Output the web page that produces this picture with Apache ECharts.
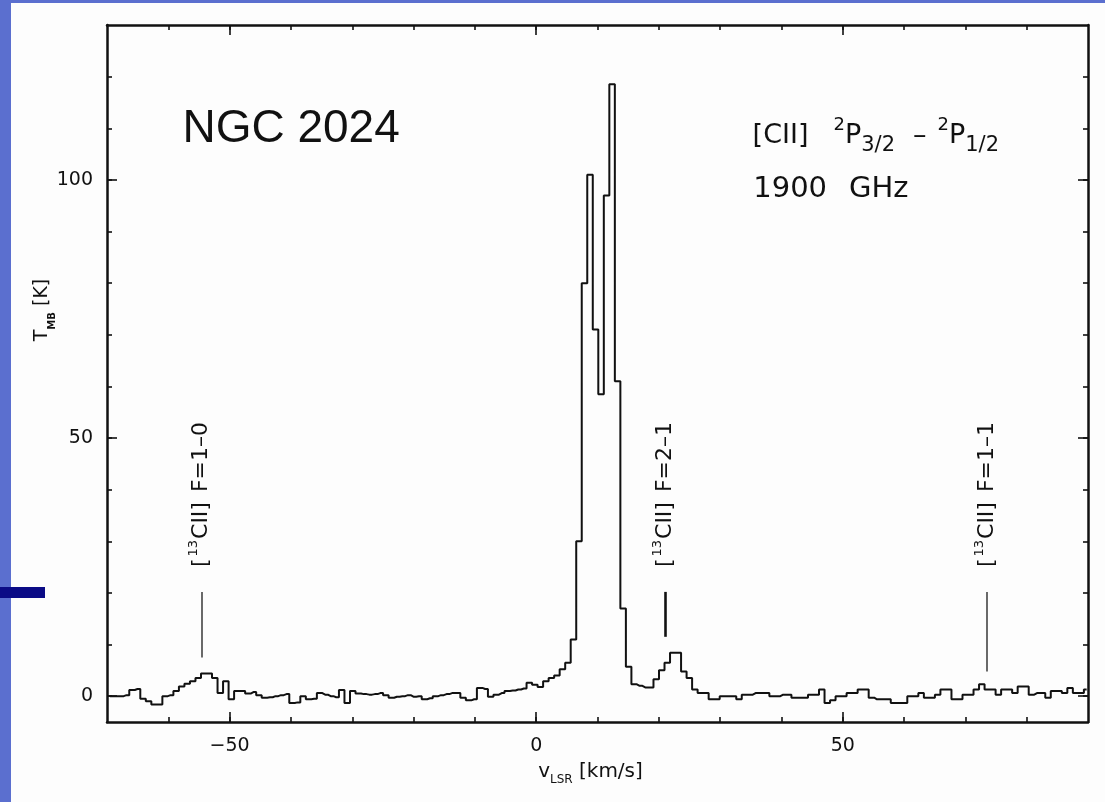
<!DOCTYPE html>
<html>
<head>
<meta charset="utf-8">
<title>NGC 2024 [CII]</title>
<script src="https://cdn.jsdelivr.net/npm/echarts@6/dist/echarts.min.js"></script>
<style>
  html, body { margin: 0; padding: 0; background: #5b6fcf; }
  #main { width: 1105px; height: 802px; }
</style>
</head>
<body>
<div id="main"></div>
<script>
// spectral axis: first channel centre and channel width (km/s)
var CH0 = -69.52;
var DCH = 0.9;

// T_MB [K] per channel
var temperature = [
  0, 0, 0, 0.2, 1.2, 1.4, -0.5, -1.0, -1.6, -1.6,
  0, 0.2, 1.0, 1.9, 2.4, 2.9, 3.5, 4.4, 4.4, 3.5,
  0.6, 2.9, -0.6, 1.0, 1.0, 0.5, 0.8, 0.2, -0.3, -0.2,
  0, 0.2, 0.4, -1.3, -1.2, 0, -0.6, -0.5, 0.6, 0.3,
  0, -0.2, 1.2, -1.3, 1.0, 0.5, 0.4, 0.3, 0.4, 0.6,
  0.2, -0.3, -0.1, 0, 0.2, -0.1, 0, -0.6, -0.4, 0,
  0.2, 0.4, 0.6, 0.6, -0.3, -0.8, -0.6, 1.6, 1.4, -0.1,
  0.3, 0.6, 1.0, 1.1, 1.3, 1.5, 2.6, 2.2, 1.8, 2.9,
  3.5, 4.0, 5.2, 6.5, 11, 30, 80, 101, 71, 58.5,
  97, 118.5, 61, 17, 5.7, 2.3, 2.0, 1.7, 1.7, 3.3,
  5.0, 6.5, 8.4, 8.4, 4.8, 3.5, 1.3, 0.6, 0.6, -0.6,
  -0.6, 0, 0, 0, -0.6, 0.3, 0.3, 0.6, 0.6, 0.6,
  0, 0, 0.3, 0.3, -0.3, -0.3, -0.3, 0.3, 0.3, 1.3,
  -1.3, -0.8, 0, 0, 0.6, 0.6, 1.3, 1.3, -0.3, -0.6,
  -0.6, -0.6, -1.3, -1.3, -1.3, 0, 0, 0.6, -0.3, -0.3,
  0.3, 1.3, 1.3, -0.6, -0.6, 0.3, 0.3, 1.3, 2.3, 1.3,
  1.3, 0.3, 1.3, 1.3, 0.6, 1.9, 1.9, 0.3, 0.6, 0.6,
  -0.3, 1.0, 1.0, 0.6, 1.6, 0.6, 0.6, 1.3
];

// 13CII hyperfine components
var markerVel = [-54.6, 21.1, 73.5];
var markerTop = [20.2, 20.2, 20.2];
var markerBottom = [7.5, 11.5, 4.8];
var markerName = ['F=1\u20130', 'F=2\u20131', 'F=1\u20131'];

// ticks
var xMajorTicks = [-50, 0, 50];
var xMinorTicks = [-60, -50, -40, -30, -20, -10, 0, 10, 20, 30, 40, 50, 60, 70, 80];
var yMajorTicks = [0, 50, 100];
var yMinorTicks = [0, 10, 20, 30, 40, 50, 60, 70, 80, 90, 100, 110, 120];

var FONT = 'DejaVu Sans';
var INK = '#111111';

var spectrum = temperature.map(function (t, i) {
  return [+(CH0 + i * DCH).toFixed(2), t];
});

function minus(v) {
  return v < 0 ? '\u2212' + Math.abs(v) : String(v);
}

function makeX(pos, ticks, len, withLine, withLabel) {
  return {
    type: 'value', position: pos, min: -70, max: 90,
    axisLine: { show: withLine, onZero: false, lineStyle: { color: INK, width: 2.5 } },
    axisTick: { show: true, inside: true, length: len, customValues: ticks,
      lineStyle: { color: INK, width: 1.6 } },
    axisLabel: { show: withLabel, customValues: xMajorTicks, formatter: minus,
      fontFamily: FONT, fontSize: 19, color: INK, margin: 15 },
    splitLine: { show: false }
  };
}
function makeY(pos, ticks, len, withLine, withLabel) {
  return {
    type: 'value', position: pos, min: -5, max: 130,
    axisLine: { show: withLine, onZero: false, lineStyle: { color: INK, width: 2.5 } },
    axisTick: { show: true, inside: true, length: len, customValues: ticks,
      lineStyle: { color: INK, width: 1.6 } },
    axisLabel: { show: withLabel, customValues: yMajorTicks,
      fontFamily: FONT, fontSize: 19, color: INK, margin: 14 },
    splitLine: { show: false }
  };
}

var xBottom = makeX('bottom', xMinorTicks, 5, true, true);
xBottom.name = '{t|v}{s|LSR}{t| [km/s]}';
xBottom.nameLocation = 'middle';
xBottom.nameGap = 40;
xBottom.nameMoveOverlap = false;
xBottom.nameTextStyle = {
  color: INK,
  padding: [0, 14, 0, 0],
  rich: {
    t: { fontFamily: FONT, fontSize: 20, color: INK, lineHeight: 24, verticalAlign: 'top' },
    s: { fontFamily: FONT, fontSize: 12, color: INK, lineHeight: 16, verticalAlign: 'bottom' }
  }
};

var yLeft = makeY('left', yMinorTicks, 5, true, true);
yLeft.name = '{t|T}{s|MB}{t| [K]}';
yLeft.nameLocation = 'middle';
yLeft.nameRotate = 90;
yLeft.nameGap = 50;
yLeft.nameMoveOverlap = false;
yLeft.nameTextStyle = {
  color: INK,
  padding: [0, 0, 0, 127],
  rich: {
    t: { fontFamily: FONT, fontSize: 19, color: INK, lineHeight: 24, verticalAlign: 'top' },
    s: { fontFamily: FONT, fontSize: 10, fontWeight: 'bold', color: INK, lineHeight: 14, verticalAlign: 'bottom' }
  }
};

var noteRich = {
  mp: { fontFamily: FONT, fontSize: 27, color: INK, lineHeight: 40, verticalAlign: 'middle', padding: [0, 22, 0, 0] },
  m: { fontFamily: FONT, fontSize: 27, color: INK, lineHeight: 40, verticalAlign: 'middle' },
  dash: { fontFamily: FONT, fontSize: 27, color: INK, lineHeight: 40, verticalAlign: 'middle', padding: [0, 8, 0, 8] },
  u: { fontFamily: FONT, fontSize: 18, color: INK, lineHeight: 14, verticalAlign: 'top', padding: [0, 0, 0, 3] },
  d: { fontFamily: FONT, fontSize: 21, color: INK, lineHeight: 28, verticalAlign: 'bottom', padding: [0, 10, 0, 0] },
  big: { fontFamily: 'Liberation Sans', fontSize: 46, color: INK, lineHeight: 50 },
  g: { fontFamily: FONT, fontSize: 29, color: INK, lineHeight: 34, padding: [0, 22, 0, 0] },
  g2: { fontFamily: FONT, fontSize: 29, color: INK, lineHeight: 34 },
  rp: { fontFamily: FONT, fontSize: 22, color: INK, lineHeight: 28, verticalAlign: 'middle', padding: [0, 10, 0, 0] },
  r: { fontFamily: FONT, fontSize: 22, color: INK, lineHeight: 28, verticalAlign: 'middle' },
  q: { fontFamily: FONT, fontSize: 13, color: INK, lineHeight: 26, verticalAlign: 'top', padding: [0, 1, 0, 2] }
};

var notes = [
  { value: [-57.7, 109.8], label: { formatter: '{big|NGC 2024}' } },
  { value: [35.3, 108.5], label: { formatter: '{mp|[CII]}{u|2}{m|P}{d|3/2}{dash|\u2013}{u|2}{m|P}{d|1/2}' } },
  { value: [35.4, 98.2], label: { formatter: '{g|1900}{g2|GHz}' } }
];
markerVel.forEach(function (v, i) {
  notes.push({
    value: [v, 25],
    label: { rotate: 90, formatter: '{r|[}{q|13}{rp|CII]}{r|' + markerName[i] + '}' }
  });
});

var markerLines = markerVel.map(function (v, i) {
  return [
    { coord: [v, markerBottom[i]],
      lineStyle: { color: i === 1 ? '#111' : '#444', width: i === 1 ? 2.6 : 1.6, type: 'solid' } },
    { coord: [v, markerTop[i]] }
  ];
});

var chart = echarts.init(document.getElementById('main'), null, { renderer: 'canvas' });

chart.setOption({
  backgroundColor: '#5b6fcf',
  animation: false,
  graphic: [
    { type: 'rect', z: -10, shape: { x: 11, y: 3, width: 1094, height: 799 }, style: { fill: '#fdfdfd' } },
    { type: 'rect', z: -9, shape: { x: 0, y: 587, width: 45, height: 11 }, style: { fill: '#0b0b86' } }
  ],
  grid: { left: 107, right: 17, top: 25, bottom: 80, containLabel: false },
  xAxis: [
    xBottom,
    makeX('bottom', xMajorTicks, 10, false, false),
    makeX('top', xMinorTicks, 5, true, false),
    makeX('top', xMajorTicks, 10, false, false)
  ],
  yAxis: [
    yLeft,
    makeY('left', yMajorTicks, 10, false, false),
    makeY('right', yMinorTicks, 5, true, false),
    makeY('right', yMajorTicks, 10, false, false)
  ],
  series: [
    {
      name: '[CII]',
      type: 'line',
      step: 'middle',
      xAxisIndex: 0,
      yAxisIndex: 0,
      data: spectrum,
      showSymbol: false,
      clip: true,
      lineStyle: { color: '#111', width: 2 },
      markLine: {
        silent: true,
        symbol: ['none', 'none'],
        label: { show: false },
        data: markerLines
      },
      z: 3
    },
    {
      name: 'notes',
      type: 'scatter',
      xAxisIndex: 0,
      yAxisIndex: 0,
      symbolSize: 0.1,
      itemStyle: { color: 'transparent', opacity: 1 },
      silent: true,
      label: {
        show: true, position: 'inside', align: 'left', verticalAlign: 'middle',
        color: INK, opacity: 1, textBorderWidth: 0, rich: noteRich
      },
      data: notes,
      z: 4
    }
  ]
});
</script>
</body>
</html>
